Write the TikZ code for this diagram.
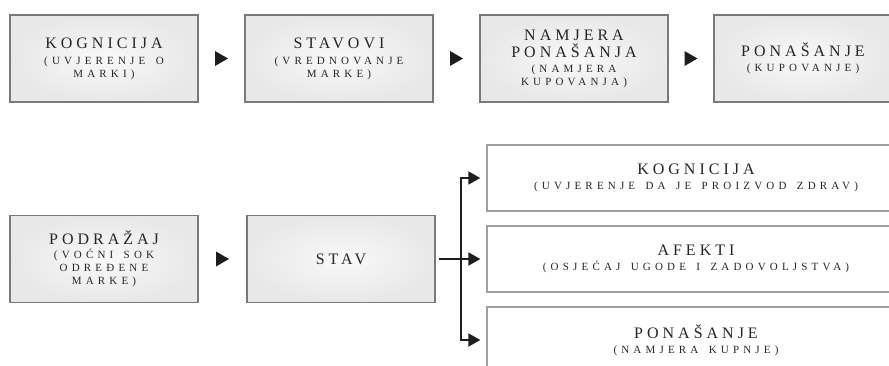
\documentclass[tikz,border=0pt]{standalone}
\usepackage{fontspec}
\usetikzlibrary{arrows.meta,calc}
\newfontfamily\ttlfont[LetterSpace=25]{Liberation Serif}
\newfontfamily\pafont[LetterSpace=38,WordSpace=1.5]{Liberation Serif}
\definecolor{txt}{HTML}{262626}
\definecolor{boxline}{HTML}{7A7A7A}
\definecolor{rline}{HTML}{A0A0A0}
\definecolor{conncol}{HTML}{1E1E1E}
\newcommand{\Tl}[1]{{\ttlfont\fontsize{16}{13}\selectfont #1}}
\newcommand{\Pa}[1]{{\pafont\fontsize{11}{13}\selectfont #1}}
\tikzset{
  graybox/.style={draw=boxline, line width=1.2pt, shading=radial, inner color=white!95!gray, outer color=white!82!gray,
    minimum width=188pt, minimum height=87pt, inner sep=0pt, align=center, text=txt, font=\fontsize{10}{13}\selectfont},
  whitebox/.style={draw=rline, line width=1.3pt, fill=white, minimum width=418pt, minimum height=66pt,
    inner sep=0pt, align=center, text=txt, font=\fontsize{10}{13}\selectfont},
  conn/.style={draw=conncol, line width=1.8pt, -{Triangle[length=12pt,width=13pt]}, shorten >=6pt},
  tri/.pic={\fill[conncol] (-6.5,-7.5) -- (6.5,0) -- (-6.5,7.5) -- cycle;}
}
\begin{document}
\begin{tikzpicture}[x=1pt,y=-1pt]
\useasboundingbox (0,0) rectangle (889,365);
\begin{scope}
\clip (0,0) rectangle (889,365);
% top row
\node[graybox] (k1) at (104,58.5) {\Tl{KOGNICIJA}\\[3pt]\Pa{(UVJERENJE O}\\\Pa{MARKI)}};
\node[graybox] (k2) at (339,58.5) {\Tl{STAVOVI}\\[3pt]\Pa{(VREDNOVANJE}\\\Pa{MARKE)}};
\node[graybox] (k3) at (574,58.5) {\Tl{NAMJERA}\\[2pt]\Tl{PONAŠANJA}\\[2pt]\Pa{(NAMJERA}\\\Pa{KUPOVANJA)}};
\node[graybox, minimum width=178pt] (k4) at (803,58.5) {\Tl{PONAŠANJE}\\[2pt]\Pa{(KUPOVANJE)}};
\coordinate (a1) at ($(k1.east)!.5!(k2.west)$);
\coordinate (a2) at ($(k2.east)!.5!(k3.west)$);
\coordinate (a3) at ($(k3.east)!.5!(k4.west)$);
\pic at (a1) {tri};
\pic at (a2) {tri};
\pic at (a3) {tri};
% bottom row
\node[graybox] (p1) at (104,259) {\Tl{PODRAŽAJ}\\[1pt]\Pa{(VOĆNI SOK}\\\Pa{ODREĐENE}\\\Pa{MARKE)}};
\node[graybox] (st) at (341,259) {\Tl{STAV}};
\coordinate (a4) at ($(p1.east)!.5!(st.west)$);
\pic at (a4) {tri};
\node[whitebox] (r1) at (696,178) {\Tl{KOGNICIJA}\\[2pt]\Pa{(UVJERENJE DA JE PROIZVOD ZDRAV)}};
\node[whitebox] (r2) at (696,259) {\Tl{AFEKTI}\\[2pt]\Pa{(OSJEĆAJ UGODE I ZADOVOLJSTVA)}};
\node[whitebox] (r3) at (696,340) {\Tl{PONAŠANJE}\\[2pt]\Pa{(NAMJERA KUPNJE)}};
\coordinate (j) at ($(st.east)!.5!(r2.west)$);
\draw[conn, shorten <=3pt] (st.east) -- (r2.west);
\draw[conn] (j) |- (r1.west);
\draw[conn] (j) |- (r3.west);
\end{scope}
\end{tikzpicture}
\end{document}
